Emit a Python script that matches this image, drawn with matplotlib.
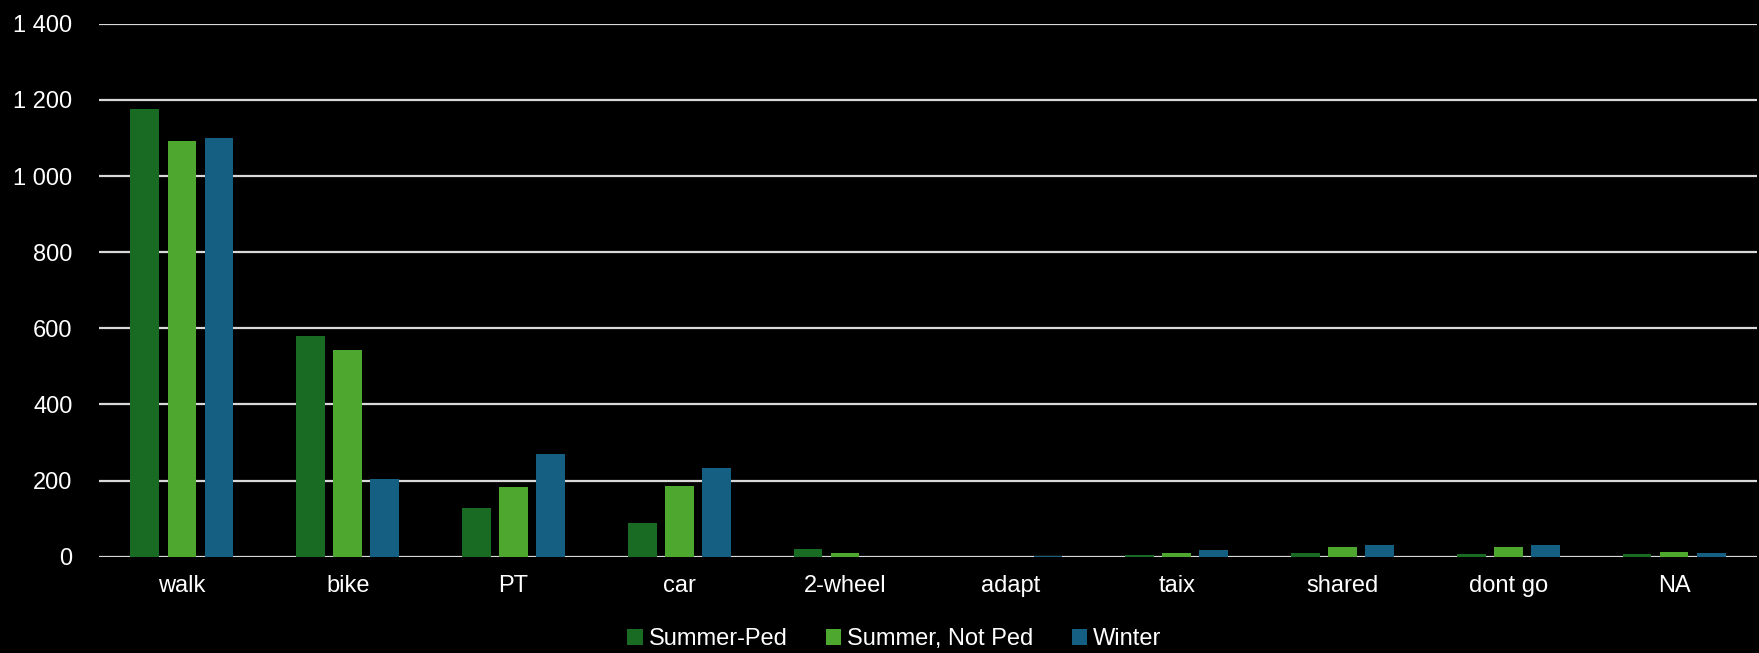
import matplotlib
matplotlib.use('Agg')
import matplotlib.pyplot as plt
from matplotlib.ticker import FuncFormatter
import numpy as np

modes = ['walk', 'bike', 'PT', 'car', '2-wheel', 'adapt', 'taix', 'shared', 'dont go', 'NA']
summer_ped = [1177, 579, 128, 89, 21, 0, 5, 11, 8, 6]
summer_not_ped = [1092, 544, 183, 185, 10, 0, 10, 25, 25, 13]
winter = [1099, 204, 269, 234, 0, 2, 18, 32, 30, 9]

series = [('Summer-Ped', summer_ped, '#196B24'),
          ('Summer, Not Ped', summer_not_ped, '#4EA72E'),
          ('Winter', winter, '#156082')]

plt.rcParams['font.family'] = ['Liberation Sans', 'DejaVu Sans']
FS = 17

fig = plt.figure(figsize=(17.59, 6.53), dpi=100, facecolor='black')
ax = fig.add_axes([99 / 1759, 1 - 556.7 / 653, 1658 / 1759, (556.7 - 23.8) / 653])
ax.set_facecolor('black')

x = np.arange(len(modes))
width = 0.173
step = 0.224
for i, (name, vals, col) in enumerate(series):
    ax.bar(x + (i - 1) * step, vals, width, color=col, label=name, zorder=3)

ax.set_xlim(-0.5, len(modes) - 0.5)
ax.set_ylim(0, 1400)
ax.set_yticks(range(0, 1401, 200))
ax.yaxis.set_major_formatter(FuncFormatter(lambda v, p: f"{int(v):,}".replace(',', ' ')))
ax.set_xticks(x)
ax.set_xticklabels(modes)

ax.grid(axis='y', color='#D9D9D9', linewidth=1.6, zorder=0)
ax.tick_params(axis='both', length=0, colors='white', labelsize=FS)
ax.tick_params(axis='y', pad=19)
ax.tick_params(axis='x', pad=13)
for s in ax.spines.values():
    s.set_visible(False)

leg = fig.legend(loc='center', bbox_to_anchor=(894.5 / 1759, 14 / 653), ncol=3,
                 frameon=False, fontsize=FS, handlelength=0.65, handleheight=0.65,
                 handletextpad=0.27, columnspacing=1.6, borderpad=0)
for t in leg.get_texts():
    t.set_color('white')

fig.savefig('out.png', dpi=100, facecolor='black')
